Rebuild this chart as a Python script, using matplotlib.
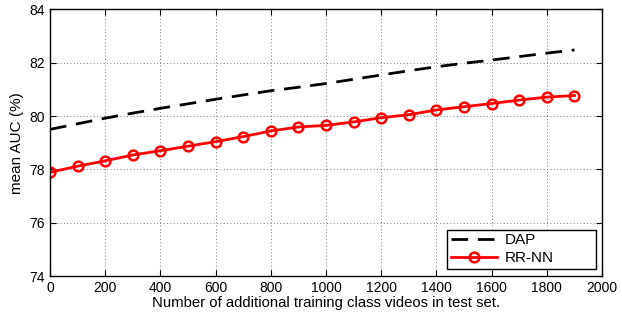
import numpy as np
import matplotlib
matplotlib.use('Agg')
from matplotlib import pyplot as plt

plt.rcParams['font.family'] = ['Liberation Sans', 'DejaVu Sans']

# number of additional training class videos
n_videos = [0, 100, 200, 300, 400, 500, 600, 700, 800, 900,
            1000, 1100, 1200, 1300, 1400, 1500, 1600, 1700, 1800, 1900]
dap = [79.50, 79.71, 79.92, 80.11, 80.29, 80.46, 80.63, 80.79, 80.95, 81.08,
       81.22, 81.38, 81.54, 81.70, 81.85, 81.98, 82.10, 82.23, 82.36, 82.48]
rr_nn = [77.89, 78.12, 78.32, 78.54, 78.70, 78.87, 79.04, 79.23, 79.44, 79.59,
         79.65, 79.78, 79.94, 80.05, 80.23, 80.35, 80.47, 80.60, 80.71, 80.77]

fig = plt.figure(figsize=(6.22, 3.14), dpi=100)
ax = fig.add_axes([0.0804, 0.121, 0.8876, 0.849])

ax.plot(n_videos, dap, 'k--', lw=2, dashes=(6, 3.5), label='DAP')
ax.plot(n_videos, rr_nn, color='red', lw=2, marker='o', ms=7,
        mfc='none', mec='red', mew=1.8, label='RR-NN')

ax.set_xlim(0, 2000)
ax.set_ylim(74, 84)
ax.set_xticks(range(0, 2001, 200))
ax.set_yticks(range(74, 85, 2))
ax.tick_params(direction='in', top=True, right=True, labelsize=10, length=4)
ax.grid(True, linestyle=(0, (1, 3)), color='k', lw=0.6, alpha=0.7)
for s in ax.spines.values():
    s.set_linewidth(1)

ax.set_xlabel('Number of additional training class videos in test set.', fontsize=10.7, labelpad=1)
ax.set_ylabel('mean AUC (%)', fontsize=11, labelpad=4)

# matlab-like legend box, wider than its content
leg = ax.legend(loc='lower left', bbox_to_anchor=(0.719, 0.026, 0.27, 0.154),
                mode='expand', fontsize=11, fancybox=False, framealpha=1,
                edgecolor='k', borderpad=0.25, handlelength=3.0, labelspacing=0.25,
                borderaxespad=0, handletextpad=0.5)
leg.get_frame().set_linewidth(1)

fig.savefig('out.png', dpi=100)
